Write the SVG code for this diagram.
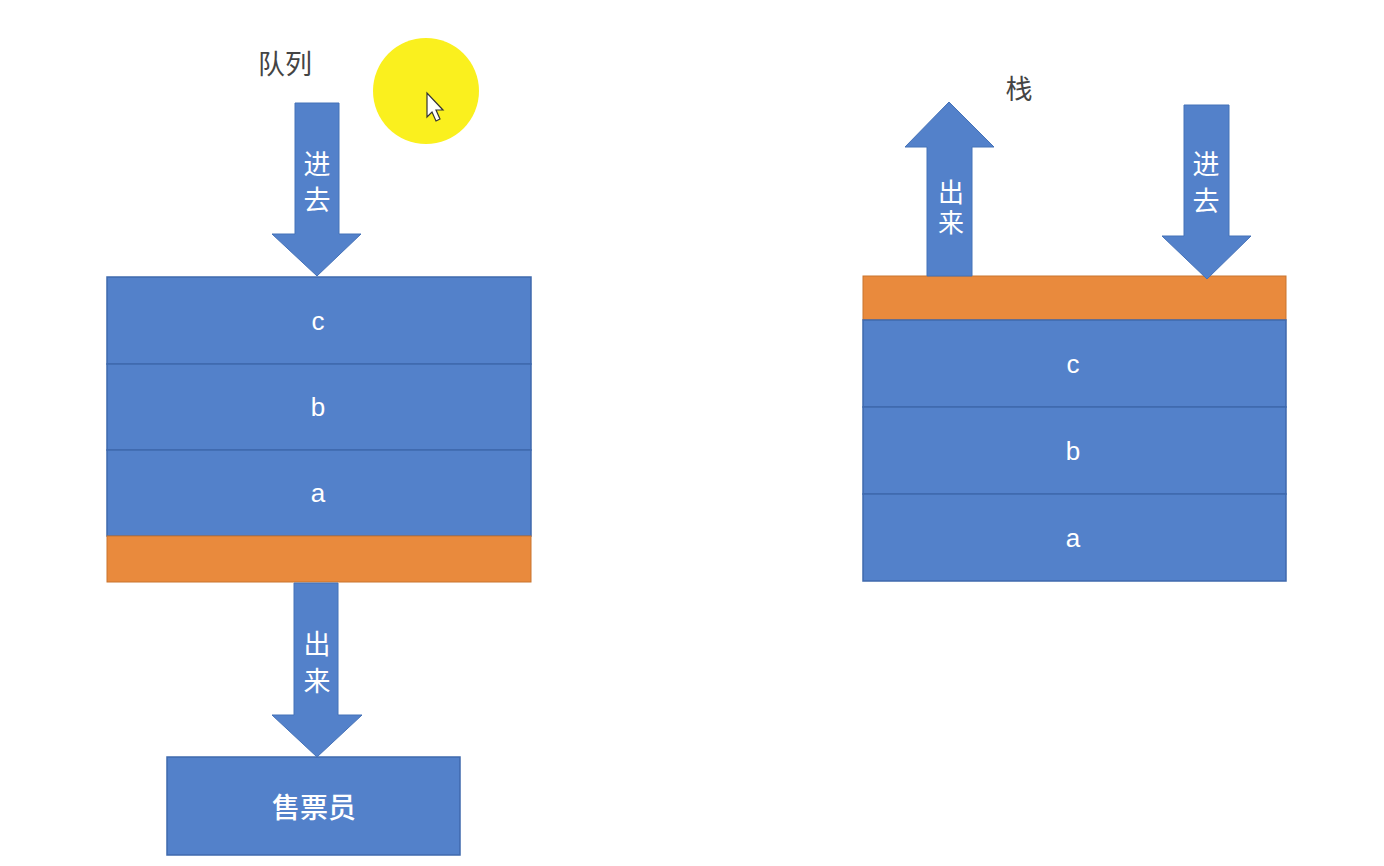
<svg xmlns="http://www.w3.org/2000/svg" width="1384" height="866" viewBox="0 0 1384 866">
<style>
.blk{fill:#5381CA;stroke:#3F69AD;stroke-width:1.5}
.org{fill:#E98A3D;stroke:#C9742E;stroke-width:1}
.arw{fill:#5381CA;stroke:#4572B8;stroke-width:1}
.lt{font-family:"Liberation Sans","Noto Sans CJK SC",sans-serif;fill:#ffffff;text-anchor:middle;dominant-baseline:central;font-size:26px}
.cj{font-family:"Noto Sans CJK SC",sans-serif;fill:#ffffff;text-anchor:middle;dominant-baseline:central;font-size:27px}
.vt{font-family:"Noto Sans CJK SC",sans-serif;fill:#ffffff;text-anchor:middle;writing-mode:vertical-rl;font-size:26px;letter-spacing:4px}
.big{font-size:28px;font-weight:500}
.ttl{font-family:"Noto Sans CJK SC",sans-serif;fill:#444444;text-anchor:middle;dominant-baseline:central;font-size:27px}
</style>
<rect width="1384" height="866" fill="#ffffff"/>
<g id="cursor-highlight">
<circle cx="426" cy="91" r="53" fill="#FAF01E"/>
<path d="M427,93 L427,117 L432,112 L436,121 L440,119 L436,110 L443,110 Z" fill="#ffffff" stroke="#333" stroke-width="1.2"/>
</g>
<g id="title-queue"><text class="ttl" x="285" y="62">队列</text></g>
<g id="title-stack"><text class="ttl" x="1019" y="87">栈</text></g>
<g id="queue">
<rect class="blk" x="107" y="277" width="424" height="87"/>
<text class="lt" x="318" y="321">c</text>
<rect class="blk" x="107" y="364" width="424" height="86"/>
<text class="lt" x="318" y="407">b</text>
<rect class="blk" x="107" y="450" width="424" height="86"/>
<text class="lt" x="318" y="493">a</text>
<rect class="org" x="107" y="536" width="424" height="46"/>
</g>
<g id="seller">
<rect class="blk" x="167" y="757" width="293" height="98"/>
<text class="cj big" x="314" y="806">售票员</text>
</g>
<g id="stack">
<rect class="org" x="863" y="276" width="423" height="44"/>
<rect class="blk" x="863" y="320" width="423" height="87"/>
<text class="lt" x="1073" y="364">c</text>
<rect class="blk" x="863" y="407" width="423" height="87"/>
<text class="lt" x="1073" y="451">b</text>
<rect class="blk" x="863" y="494" width="423" height="87"/>
<text class="lt" x="1073" y="538">a</text>
</g>
<g id="connectors">
<g id="queue-in">
<path class="arw" d="M295,103 L339,103 L339,234 L361,234 L317,276 L272,234 L295,234 Z"/>
<text class="cj" x="317" y="162">进</text>
<text class="cj" x="317" y="198">去</text>
</g>
<g id="queue-out">
<path class="arw" d="M294,583 L338,583 L338,715 L362,715 L317,757 L272,715 L294,715 Z"/>
<text class="cj" x="317" y="642">出</text>
<text class="cj" x="317" y="679">来</text>
</g>
<g id="stack-out">
<path class="arw" d="M949,102 L994,147 L972,147 L972,276 L927,276 L927,147 L905,147 Z"/>
<text class="vt" x="951" y="209">出来</text>
</g>
<g id="stack-in">
<path class="arw" d="M1184,105 L1229,105 L1229,236 L1251,236 L1207,279 L1162,236 L1184,236 Z"/>
<text class="cj" x="1206" y="162">进</text>
<text class="cj" x="1206" y="199">去</text>
</g>
</g>
</svg>
